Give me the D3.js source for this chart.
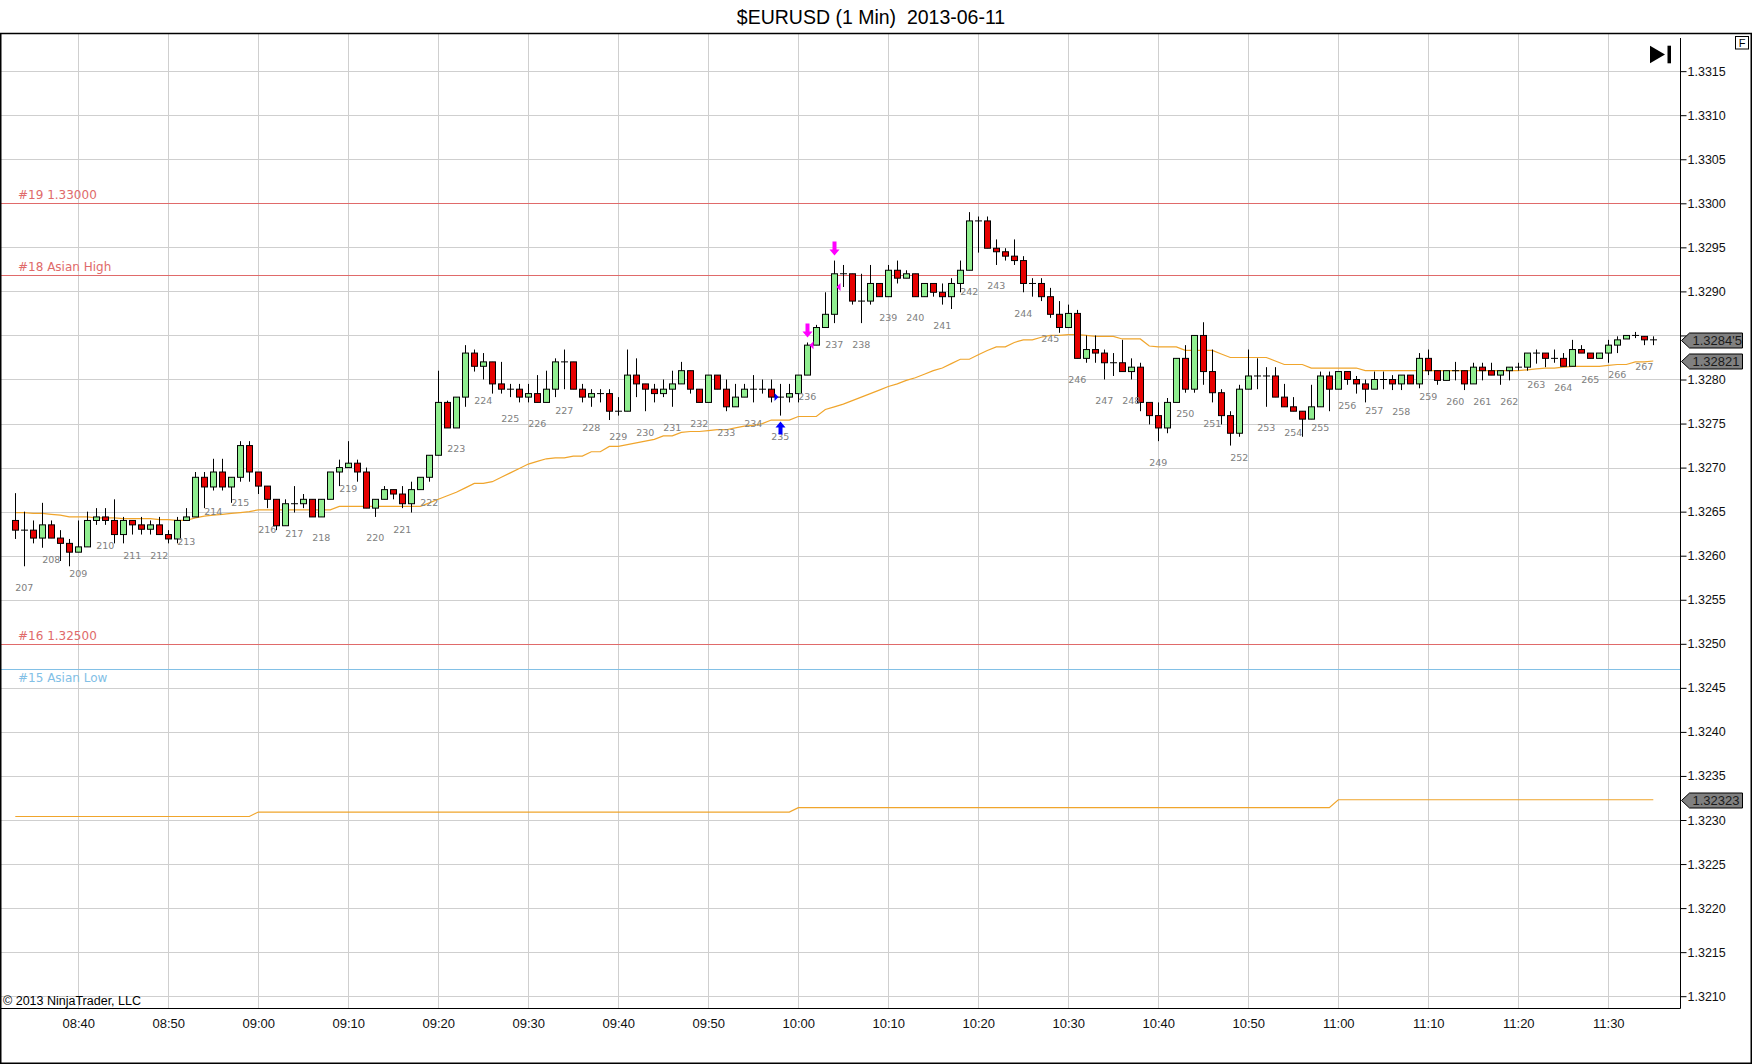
<!DOCTYPE html>
<html lang="en">
<head>
<meta charset="UTF-8">
<script src="https://cdn.jsdelivr.net/npm/d3@7"></script>
<style>
  body { margin: 0; background: #fff; }
  svg { display: block; }
</style>
</head>
<body>
<div id="container"></div>
<script>
// Chart size
const width = 1752;
const height = 1064;

const title = "$EURUSD (1 Min)  2013-06-11";
const copyright = "\u00a9 2013 NinjaTrader, LLC";

// one bar per minute, starting here
const firstBar = "08:33";
const firstBarNumber = 207;   // bar counter shown every 3rd bar, starting at 2nd bar

const opens = [
  1.32640, 1.32629, 1.32629, 1.32620, 1.32635, 1.32620, 1.32614, 1.32604, 1.32610, 1.32640,
  1.32644, 1.32640, 1.32624, 1.32640, 1.32635, 1.32630, 1.32635, 1.32624, 1.32619, 1.32640,
  1.32644, 1.32689, 1.32678, 1.32695, 1.32678, 1.32689, 1.32725, 1.32695, 1.32679, 1.32664,
  1.32634, 1.32659, 1.32659, 1.32664, 1.32644, 1.32664, 1.32695, 1.32700, 1.32705, 1.32695,
  1.32654, 1.32664, 1.32675, 1.32670, 1.32659, 1.32675, 1.32689, 1.32714, 1.32774, 1.32745,
  1.32780, 1.32830, 1.32815, 1.32820, 1.32795, 1.32789, 1.32789, 1.32780, 1.32784, 1.32774,
  1.32789, 1.32820, 1.32820, 1.32789, 1.32780, 1.32784, 1.32784, 1.32764, 1.32764, 1.32805,
  1.32795, 1.32789, 1.32784, 1.32789, 1.32795, 1.32810, 1.32789, 1.32774, 1.32805, 1.32789,
  1.32769, 1.32780, 1.32789, 1.32789, 1.32789, 1.32780, 1.32780, 1.32784, 1.32805, 1.32839,
  1.32859, 1.32874, 1.32920, 1.32920, 1.32889, 1.32889, 1.32909, 1.32894, 1.32924, 1.32915,
  1.32920, 1.32894, 1.32909, 1.32899, 1.32894, 1.32909, 1.32924, 1.32980, 1.32980, 1.32949,
  1.32945, 1.32940, 1.32935, 1.32909, 1.32909, 1.32894, 1.32874, 1.32859, 1.32875, 1.32824,
  1.32834, 1.32830, 1.32819, 1.32819, 1.32809, 1.32814, 1.32774, 1.32759, 1.32745, 1.32774,
  1.32824, 1.32789, 1.32850, 1.32809, 1.32785, 1.32759, 1.32739, 1.32789, 1.32804, 1.32804,
  1.32804, 1.32780, 1.32769, 1.32764, 1.32755, 1.32769, 1.32804, 1.32789, 1.32809, 1.32800,
  1.32795, 1.32789, 1.32800, 1.32800, 1.32795, 1.32805, 1.32795, 1.32824, 1.32810, 1.32799,
  1.32810, 1.32810, 1.32795, 1.32814, 1.32810, 1.32805, 1.32810, 1.32814, 1.32814, 1.32830,
  1.32830, 1.32824, 1.32824, 1.32815, 1.32834, 1.32830, 1.32824, 1.32830, 1.32839, 1.32846,
  1.32850, 1.32849, 1.32845
];
const highs = [
  1.32671, 1.32650, 1.32640, 1.32660, 1.32640, 1.32629, 1.32619, 1.32640, 1.32650, 1.32654,
  1.32654, 1.32664, 1.32644, 1.32640, 1.32644, 1.32640, 1.32644, 1.32629, 1.32644, 1.32654,
  1.32695, 1.32695, 1.32710, 1.32710, 1.32689, 1.32730, 1.32730, 1.32695, 1.32679, 1.32664,
  1.32664, 1.32679, 1.32670, 1.32664, 1.32664, 1.32695, 1.32709, 1.32730, 1.32709, 1.32700,
  1.32664, 1.32679, 1.32675, 1.32679, 1.32684, 1.32689, 1.32714, 1.32810, 1.32776, 1.32780,
  1.32839, 1.32834, 1.32830, 1.32820, 1.32820, 1.32795, 1.32795, 1.32795, 1.32805, 1.32810,
  1.32824, 1.32834, 1.32820, 1.32795, 1.32789, 1.32789, 1.32789, 1.32780, 1.32834, 1.32824,
  1.32795, 1.32795, 1.32800, 1.32810, 1.32820, 1.32810, 1.32789, 1.32805, 1.32805, 1.32800,
  1.32795, 1.32795, 1.32805, 1.32800, 1.32800, 1.32795, 1.32795, 1.32805, 1.32842, 1.32862,
  1.32899, 1.32935, 1.32930, 1.32920, 1.32920, 1.32930, 1.32909, 1.32930, 1.32935, 1.32924,
  1.32920, 1.32909, 1.32909, 1.32909, 1.32915, 1.32935, 1.32990, 1.32985, 1.32985, 1.32959,
  1.32949, 1.32959, 1.32940, 1.32915, 1.32915, 1.32904, 1.32889, 1.32885, 1.32879, 1.32850,
  1.32850, 1.32834, 1.32830, 1.32845, 1.32824, 1.32819, 1.32774, 1.32774, 1.32779, 1.32824,
  1.32839, 1.32850, 1.32865, 1.32834, 1.32789, 1.32764, 1.32794, 1.32834, 1.32824, 1.32814,
  1.32814, 1.32795, 1.32780, 1.32764, 1.32794, 1.32809, 1.32809, 1.32809, 1.32809, 1.32804,
  1.32800, 1.32809, 1.32809, 1.32805, 1.32805, 1.32805, 1.32830, 1.32834, 1.32810, 1.32810,
  1.32820, 1.32810, 1.32819, 1.32819, 1.32819, 1.32810, 1.32814, 1.32819, 1.32830, 1.32834,
  1.32830, 1.32834, 1.32830, 1.32845, 1.32839, 1.32830, 1.32830, 1.32845, 1.32849, 1.32850,
  1.32854, 1.32849, 1.32849
];
const lows = [
  1.32619, 1.32588, 1.32614, 1.32609, 1.32620, 1.32594, 1.32588, 1.32604, 1.32610, 1.32635,
  1.32635, 1.32614, 1.32614, 1.32624, 1.32624, 1.32624, 1.32624, 1.32614, 1.32614, 1.32640,
  1.32644, 1.32654, 1.32674, 1.32674, 1.32660, 1.32684, 1.32684, 1.32670, 1.32654, 1.32629,
  1.32634, 1.32649, 1.32654, 1.32644, 1.32644, 1.32664, 1.32679, 1.32700, 1.32684, 1.32654,
  1.32644, 1.32664, 1.32664, 1.32654, 1.32649, 1.32675, 1.32684, 1.32714, 1.32745, 1.32745,
  1.32769, 1.32809, 1.32800, 1.32784, 1.32784, 1.32780, 1.32774, 1.32774, 1.32774, 1.32774,
  1.32780, 1.32789, 1.32789, 1.32774, 1.32769, 1.32774, 1.32754, 1.32759, 1.32764, 1.32780,
  1.32764, 1.32774, 1.32780, 1.32769, 1.32795, 1.32784, 1.32774, 1.32774, 1.32789, 1.32764,
  1.32769, 1.32780, 1.32774, 1.32784, 1.32774, 1.32759, 1.32774, 1.32774, 1.32805, 1.32839,
  1.32859, 1.32864, 1.32905, 1.32885, 1.32864, 1.32885, 1.32894, 1.32894, 1.32909, 1.32915,
  1.32894, 1.32894, 1.32894, 1.32885, 1.32880, 1.32899, 1.32924, 1.32944, 1.32949, 1.32930,
  1.32935, 1.32930, 1.32899, 1.32894, 1.32889, 1.32870, 1.32853, 1.32859, 1.32824, 1.32819,
  1.32819, 1.32800, 1.32804, 1.32809, 1.32800, 1.32764, 1.32749, 1.32730, 1.32739, 1.32774,
  1.32785, 1.32785, 1.32794, 1.32774, 1.32749, 1.32725, 1.32735, 1.32789, 1.32789, 1.32769,
  1.32780, 1.32769, 1.32764, 1.32735, 1.32755, 1.32769, 1.32764, 1.32789, 1.32794, 1.32784,
  1.32774, 1.32789, 1.32789, 1.32788, 1.32788, 1.32795, 1.32790, 1.32805, 1.32794, 1.32799,
  1.32799, 1.32788, 1.32795, 1.32799, 1.32805, 1.32794, 1.32799, 1.32810, 1.32810, 1.32818,
  1.32814, 1.32819, 1.32815, 1.32815, 1.32830, 1.32824, 1.32824, 1.32819, 1.32830, 1.32846,
  1.32847, 1.32839, 1.32839
];
const closes = [
  1.32629, 1.32629, 1.32620, 1.32635, 1.32620, 1.32614, 1.32604, 1.32610, 1.32640, 1.32644,
  1.32640, 1.32624, 1.32640, 1.32635, 1.32630, 1.32635, 1.32624, 1.32619, 1.32640, 1.32644,
  1.32689, 1.32678, 1.32695, 1.32678, 1.32689, 1.32725, 1.32695, 1.32679, 1.32664, 1.32634,
  1.32659, 1.32659, 1.32664, 1.32644, 1.32664, 1.32695, 1.32700, 1.32705, 1.32695, 1.32654,
  1.32664, 1.32675, 1.32670, 1.32659, 1.32675, 1.32689, 1.32714, 1.32774, 1.32745, 1.32780,
  1.32830, 1.32815, 1.32820, 1.32795, 1.32789, 1.32789, 1.32780, 1.32784, 1.32774, 1.32789,
  1.32820, 1.32820, 1.32789, 1.32780, 1.32784, 1.32784, 1.32764, 1.32764, 1.32805, 1.32795,
  1.32789, 1.32784, 1.32789, 1.32795, 1.32810, 1.32789, 1.32774, 1.32805, 1.32789, 1.32769,
  1.32780, 1.32789, 1.32789, 1.32789, 1.32780, 1.32780, 1.32784, 1.32805, 1.32839, 1.32859,
  1.32874, 1.32920, 1.32920, 1.32889, 1.32889, 1.32909, 1.32894, 1.32924, 1.32915, 1.32920,
  1.32894, 1.32909, 1.32899, 1.32894, 1.32909, 1.32924, 1.32980, 1.32980, 1.32949, 1.32945,
  1.32940, 1.32935, 1.32909, 1.32909, 1.32894, 1.32874, 1.32859, 1.32875, 1.32824, 1.32834,
  1.32830, 1.32819, 1.32819, 1.32809, 1.32814, 1.32774, 1.32759, 1.32745, 1.32774, 1.32824,
  1.32789, 1.32850, 1.32809, 1.32785, 1.32759, 1.32739, 1.32789, 1.32804, 1.32804, 1.32804,
  1.32780, 1.32769, 1.32764, 1.32755, 1.32769, 1.32804, 1.32789, 1.32809, 1.32800, 1.32795,
  1.32789, 1.32800, 1.32800, 1.32795, 1.32805, 1.32795, 1.32824, 1.32810, 1.32799, 1.32810,
  1.32810, 1.32795, 1.32814, 1.32810, 1.32805, 1.32810, 1.32814, 1.32814, 1.32830, 1.32830,
  1.32824, 1.32824, 1.32815, 1.32834, 1.32830, 1.32824, 1.32830, 1.32839, 1.32845, 1.32850,
  1.32850, 1.32845, 1.32845
];

// orange running line (one value per bar)
const avgLine = [
  1.32649, 1.32649, 1.32648, 1.32648, 1.32647, 1.32646,
  1.32644, 1.32644, 1.32644, 1.32643, 1.32643, 1.32643,
  1.32642, 1.32642, 1.32642, 1.32642, 1.32641,
  1.32641, 1.32640, 1.32640,
  1.32643, 1.32645, 1.32646, 1.32647, 1.32648, 1.32649, 1.32650,
  1.32652, 1.32652, 1.32652, 1.32652, 1.32652, 1.32652, 1.32652, 1.32652, 1.32652,
  1.32656, 1.32656, 1.32656, 1.32656, 1.32656, 1.32656, 1.32656, 1.32656, 1.32656, 1.32656,
  1.32660, 1.32664, 1.32668,
  1.32672, 1.32677, 1.32682, 1.32682, 1.32684, 1.32689, 1.32694, 1.32699, 1.32704, 1.32707, 1.32710,
  1.32711, 1.32711, 1.32713, 1.32713, 1.32718, 1.32718, 1.32724, 1.32724, 1.32726, 1.32728,
  1.32730, 1.32732, 1.32736, 1.32736, 1.32740, 1.32741, 1.32741, 1.32742, 1.32743, 1.32743,
  1.32745, 1.32747, 1.32748, 1.32750, 1.32754, 1.32754, 1.32754, 1.32758, 1.32758, 1.32758,
  1.32766, 1.32769, 1.32772, 1.32776, 1.32780, 1.32784, 1.32788, 1.32792, 1.32795, 1.32799,
  1.32802, 1.32806, 1.32810, 1.32813, 1.32818, 1.32823, 1.32823, 1.32828, 1.32833, 1.32837,
  1.32837, 1.32842, 1.32845, 1.32845, 1.32848, 1.32850, 1.32850, 1.32851, 1.32851,
  1.32850, 1.32849, 1.32849, 1.32849, 1.32846, 1.32846, 1.32846, 1.32838, 1.32837, 1.32837,
  1.32837, 1.32833, 1.32833, 1.32833, 1.32833, 1.32829, 1.32825, 1.32825, 1.32825, 1.32825,
  1.32825, 1.32821, 1.32817, 1.32817, 1.32817, 1.32813, 1.32813, 1.32813, 1.32813, 1.32813, 1.32813,
  1.32810, 1.32810, 1.32810, 1.32810, 1.32810, 1.32810, 1.32810, 1.32810, 1.32810,
  1.32810, 1.32810, 1.32810, 1.32810, 1.32810, 1.32810, 1.32810, 1.32810, 1.32810,
  1.32811, 1.32812, 1.32813, 1.32813, 1.32814, 1.32815, 1.32815, 1.32815, 1.32815,
  1.32816, 1.32817, 1.32817, 1.32820, 1.32820, 1.32821
];

// lower orange line, changes once an hour
const hourStarts = ["08:00", "09:00", "10:00", "11:00"];
const hourLevels = [1.32304, 1.32309, 1.32314, 1.32323];

// horizontal price levels
const levelNames = ["#19 1.33000", "#18 Asian High", "#16 1.32500", "#15 Asian Low"];
const levelPrices = [1.33000, 1.32919, 1.32500, 1.32471];

// trade signals
const signalBars = ["09:58", "10:01", "10:04"];
const signalSides = ["long", "short", "short"];
const signalPrices = [1.32780, 1.32839, 1.32905];

// axes
const timeTicksFrom = "08:40";
const timeTicksTo = "11:30";
const priceTicksFrom = 1.3210;
const priceTicksTo = 1.3315;
const priceTickStep = 0.0005;

// ---------------------------------------------------------------
const levelColors = ["#e06a6a", "#e06a6a", "#e06a6a", "#82c0e6"];
const upFill = "#90ee90";
const downFill = "#e60000";
const orange = "#f0a52c";
const sansFont = "'Liberation Sans', Arial, sans-serif";
const labelFont = "'DejaVu Sans', Verdana, sans-serif";

const parse = d3.timeParse("%H:%M");
const hhmm = d3.timeFormat("%H:%M");
const t0 = parse(firstBar);
const times = opens.map((d, i) => d3.timeMinute.offset(t0, i));
const bars = times.map((t, i) => ({
  t, i, o: opens[i], h: highs[i], l: lows[i], c: closes[i], avg: avgLine[i]
}));

const plotRight = 1680;
const plotTop = 34;
const plotBottom = 1008;

const x = d3.scaleTime()
    .domain([parse(timeTicksFrom), parse(timeTicksTo)])
    .range([78.3, 1608.3]);
const y = d3.scaleLinear()
    .domain([priceTicksFrom, priceTicksTo])
    .range([996.2, 71.15]);

const svg = d3.create("svg")
    .attr("width", width)
    .attr("height", height);

svg.append("rect")
    .attr("width", width)
    .attr("height", height)
    .attr("fill", "#fff");

// grid
const timeTicks = x.ticks(d3.timeMinute.every(10));
const nPrice = Math.round((priceTicksTo - priceTicksFrom) / priceTickStep);
const priceTicks = d3.range(nPrice + 1).map(k => +(priceTicksFrom + k * priceTickStep).toFixed(4));

svg.append("g")
  .selectAll("line")
  .data(timeTicks)
  .join("line")
    .attr("x1", d => Math.round(x(d)) + 0.5)
    .attr("x2", d => Math.round(x(d)) + 0.5)
    .attr("y1", plotTop)
    .attr("y2", plotBottom)
    .attr("stroke", "#cfcfcf");

svg.append("g")
  .selectAll("line")
  .data(priceTicks)
  .join("line")
    .attr("x1", 0)
    .attr("x2", plotRight)
    .attr("y1", d => Math.round(y(d)) + 0.5)
    .attr("y2", d => Math.round(y(d)) + 0.5)
    .attr("stroke", "#cfcfcf");

// levels
const levels = svg.append("g");
levelNames.forEach((name, k) => {
  const ly = Math.round(y(levelPrices[k])) + 0.5;
  levels.append("line")
      .attr("x1", 0).attr("x2", plotRight)
      .attr("y1", ly).attr("y2", ly)
      .attr("stroke", levelColors[k]);
  const below = k === 3;
  levels.append("text")
      .attr("x", 18)
      .attr("y", below ? ly + 12 : ly - 5)
      .attr("font-family", labelFont)
      .attr("font-size", 12)
      .attr("fill", levelColors[k])
      .text(name);
});

// orange lines
svg.append("path")
    .datum(bars)
    .attr("fill", "none")
    .attr("stroke", orange)
    .attr("stroke-width", 1.2)
    .attr("d", d3.line().x(d => x(d.t)).y(d => y(d.avg)));

const hourOf = t => {
  let lvl = hourLevels[0];
  hourStarts.forEach((h, k) => { if (hhmm(t) >= h) lvl = hourLevels[k]; });
  return lvl;
};
svg.append("path")
    .datum(bars)
    .attr("fill", "none")
    .attr("stroke", orange)
    .attr("stroke-width", 1.2)
    .attr("d", d3.line().x(d => x(d.t)).y(d => y(hourOf(d.t))));

// candles
const candle = svg.append("g")
  .selectAll("g")
  .data(bars)
  .join("g")
    .attr("transform", d => `translate(${Math.round(x(d.t)) + 0.5},0)`);

candle.append("line")
    .attr("y1", d => y(d.h))
    .attr("y2", d => y(d.l))
    .attr("stroke", "#000");

candle.filter(d => d.o !== d.c)
  .append("rect")
    .attr("x", -3)
    .attr("width", 6)
    .attr("y", d => y(Math.max(d.o, d.c)))
    .attr("height", d => Math.max(1, Math.abs(y(d.o) - y(d.c))))
    .attr("fill", d => d.c > d.o ? upFill : downFill)
    .attr("stroke", "#000");

candle.filter(d => d.o === d.c)
  .append("line")
    .attr("x1", -3.5).attr("x2", 3.5)
    .attr("y1", d => y(d.c)).attr("y2", d => y(d.c))
    .attr("stroke", "#000");

// bar numbers
svg.append("g")
  .selectAll("text")
  .data(bars.filter(d => d.i >= 1 && (d.i - 1) % 3 === 0))
  .join("text")
    .attr("x", d => x(d.t))
    .attr("y", d => y(d.l) + 24.5)
    .attr("text-anchor", "middle")
    .attr("font-family", labelFont)
    .attr("font-size", 9.5)
    .attr("fill", "#808080")
    .text(d => firstBarNumber + (d.i - 1) / 3);

// signals
signalBars.forEach((s, k) => {
  const b = bars.find(d => hhmm(d.t) === s);
  const cx = Math.round(x(b.t)) + 0.5;
  const ey = y(signalPrices[k]);
  if (signalSides[k] === "long") {
    const top = y(b.l) + 6, bot = y(b.l) + 19;
    svg.append("path")
        .attr("d", `M${cx},${top} L${cx + 5},${top + 6} L${cx + 2},${top + 6} L${cx + 2},${bot} L${cx - 2},${bot} L${cx - 2},${top + 6} L${cx - 5},${top + 6} Z`)
        .attr("fill", "#0000ff");
    svg.append("path")
        .attr("d", `M${cx - 6},${ey - 4} L${cx - 2},${ey} L${cx - 6},${ey + 4} Z`)
        .attr("fill", "#0000ff");
  } else {
    const bot = y(b.h) - 5, top = y(b.h) - 19;
    svg.append("path")
        .attr("d", `M${cx},${bot} L${cx + 5},${bot - 6} L${cx + 2},${bot - 6} L${cx + 2},${top} L${cx - 2},${top} L${cx - 2},${bot - 6} L${cx - 5},${bot - 6} Z`)
        .attr("fill", "#ff00ff");
    svg.append("path")
        .attr("d", `M${cx + 6},${ey - 4} L${cx + 2},${ey} L${cx + 6},${ey + 4} Z`)
        .attr("fill", "#ff00ff");
  }
});

// price tags on the axis
const lastBar = bars[bars.length - 1];
const fmtTick = v => { const s = d3.format(".5f")(v); return s.slice(0, -1) + "'" + s.slice(-1); };
const tags = [
  { v: lastBar.c, label: fmtTick(lastBar.c) },
  { v: lastBar.avg, label: d3.format(".5f")(lastBar.avg) },
  { v: hourOf(lastBar.t), label: d3.format(".5f")(hourOf(lastBar.t)) }
];

// y axis (labels hidden behind a tag are left out, as in the platform)
const covered = v => tags.some(tg => Math.abs(y(tg.v) - y(v)) < 12);
const yAxis = svg.append("g")
    .attr("transform", `translate(${plotRight + 0.5},0)`)
    .call(d3.axisRight(y).tickValues(priceTicks).tickSize(6).tickPadding(1)
      .tickFormat(d => covered(d) ? "" : d3.format(".4f")(d)));
yAxis.select(".domain").remove();
yAxis.selectAll("text")
    .attr("font-family", sansFont)
    .attr("font-size", 12.5)
    .attr("fill", "#111");
yAxis.selectAll("line").attr("stroke", "#000");

// x axis
const xAxis = svg.append("g")
    .attr("transform", `translate(0,${plotBottom + 0.5})`)
    .call(d3.axisBottom(x).tickValues(timeTicks).tickSize(0).tickPadding(10).tickFormat(hhmm));
xAxis.select(".domain").remove();
xAxis.selectAll("text")
    .attr("font-family", sansFont)
    .attr("font-size", 13)
    .attr("fill", "#111");

// frame
svg.append("line")
    .attr("x1", 0).attr("x2", plotRight + 0.5)
    .attr("y1", plotBottom + 0.5).attr("y2", plotBottom + 0.5)
    .attr("stroke", "#000");
svg.append("line")
    .attr("x1", plotRight + 0.5).attr("x2", plotRight + 0.5)
    .attr("y1", 38).attr("y2", plotBottom + 0.5)
    .attr("stroke", "#000");
svg.append("rect")
    .attr("x", 0.75).attr("y", 33.5)
    .attr("width", width - 1.5).attr("height", height - 34.25)
    .attr("fill", "none")
    .attr("stroke", "#000")
    .attr("stroke-width", 1.5);

const tag = svg.append("g")
  .selectAll("g")
  .data(tags)
  .join("g")
    .attr("transform", d => `translate(${plotRight + 1.5},${Math.round(y(d.v)) + 0.5})`);
tag.append("path")
    .attr("d", "M0,0 L8,-7.5 L61,-7.5 L61,7.5 L8,7.5 Z")
    .attr("fill", "#808080")
    .attr("stroke", "#000");
tag.append("text")
    .attr("x", 11)
    .attr("y", 4.8)
    .attr("font-family", sansFont)
    .attr("font-size", 13)
    .attr("fill", "#1a1a1a")
    .text(d => d.label);

// title and texts
svg.append("text")
    .attr("x", 871)
    .attr("y", 23.5)
    .attr("text-anchor", "middle")
    .attr("font-family", sansFont)
    .attr("font-size", 19.5)
    .attr("fill", "#000")
    .style("white-space", "pre")
    .attr("xml:space", "preserve")
    .text(title);

svg.append("text")
    .attr("x", 3)
    .attr("y", 1005)
    .attr("font-family", sansFont)
    .attr("font-size", 12.5)
    .attr("fill", "#000")
    .text(copyright);

// go-to-end button and F box
svg.append("path")
    .attr("d", "M1650,45.7 L1665,54.5 L1650,63.3 Z")
    .attr("fill", "#000");
svg.append("rect")
    .attr("x", 1667.5).attr("y", 45.7)
    .attr("width", 3.5).attr("height", 17.6)
    .attr("fill", "#000");
svg.append("rect")
    .attr("x", 1735.5).attr("y", 36.5)
    .attr("width", 13).attr("height", 12.5)
    .attr("fill", "#fff")
    .attr("stroke", "#000");
svg.append("text")
    .attr("x", 1742)
    .attr("y", 47)
    .attr("text-anchor", "middle")
    .attr("font-family", sansFont)
    .attr("font-size", 11)
    .text("F");

document.getElementById("container").appendChild(svg.node());
</script>
</body>
</html>
